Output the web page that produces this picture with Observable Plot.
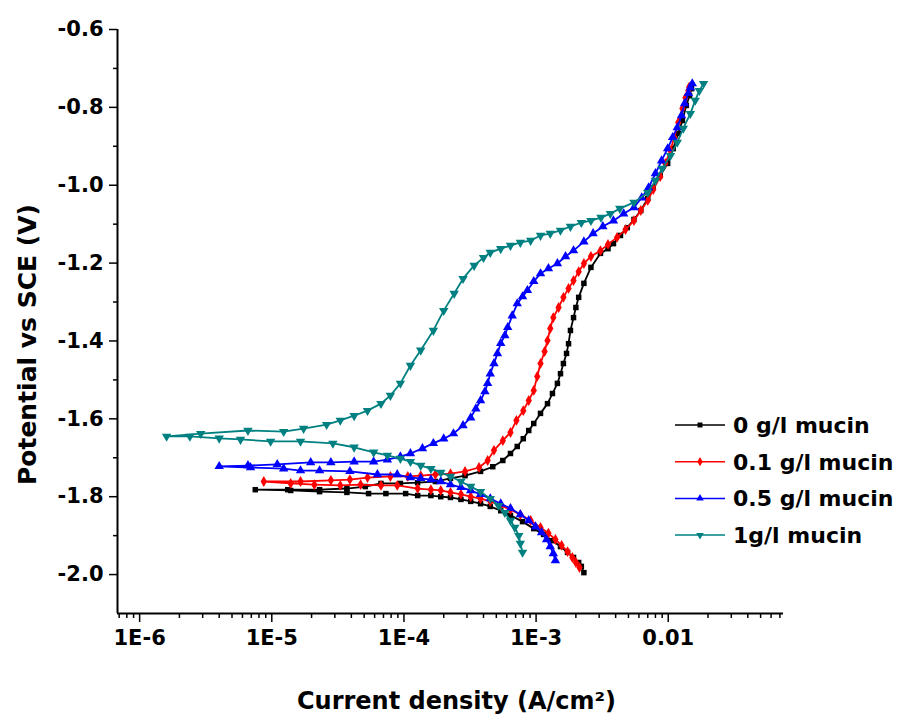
<!DOCTYPE html>
<html><head><meta charset="utf-8">
<script src="https://cdn.jsdelivr.net/npm/d3@7"></script>
<script src="https://cdn.jsdelivr.net/npm/@observablehq/plot@0.6"></script>
<style>
body{margin:0;background:#fff;}
#wrap{position:relative;width:898px;height:714px;overflow:hidden;}
#legend{position:absolute;left:665px;top:400px;}
</style></head><body><div id="wrap"></div>
<script>
// Series names / colours
const seriesNames = ["0 g/l mucin", "0.1 g/l mucin", "0.5 g/l mucin", "1g/l mucin"];
const seriesColors = ["#000000", "#ff0000", "#0000ff", "#008080"];
const seriesSymbols = ["square", "diamond", "triangle", "triangle"];
const seriesRotate = [0, 0, 0, 180];

// [current density (A/cm2), potential (V vs SCE)] in scan order
const mucin0 = [
  [2.3e-3,-1.995],[2.2e-3,-1.979],[2.1e-3,-1.969],[1.92e-3,-1.956],[1.73e-3,-1.943],[1.53e-3,-1.928],[1.33e-3,-1.913],[1.14e-3,-1.897],[9.6e-4,-1.882],[7.9e-4,-1.864],
  [6.4e-4,-1.848],[5.4e-4,-1.836],[4.5e-4,-1.825],[3.8e-4,-1.818],[3.2e-4,-1.812],[2.7e-4,-1.807],[2.25e-4,-1.802],[1.9e-4,-1.800],[1.6e-4,-1.797],[1.27e-4,-1.797],
  [1.03e-4,-1.792],[7.3e-5,-1.792],[5.4e-5,-1.792],[3.7e-5,-1.789],[2.3e-5,-1.787],[1.39e-5,-1.784],[7.5e-6,-1.782],
  [1.32e-5,-1.782],[2.3e-5,-1.782],[3.7e-5,-1.779],[5.1e-5,-1.774],[6.7e-5,-1.766],[9.4e-5,-1.766],[1.27e-4,-1.764],[1.73e-4,-1.761],[2.25e-4,-1.753],[2.9e-4,-1.746],
  [3.8e-4,-1.735],[4.7e-4,-1.723],[5.6e-4,-1.707],[6.4e-4,-1.689],[7.2e-4,-1.671],[8.0e-4,-1.651],[8.8e-4,-1.630],[9.6e-4,-1.612],[1.08e-3,-1.586],[1.22e-3,-1.561],
  [1.33e-3,-1.535],[1.45e-3,-1.509],[1.53e-3,-1.484],[1.61e-3,-1.458],[1.7e-3,-1.432],[1.76e-3,-1.407],[1.82e-3,-1.373],[1.92e-3,-1.340],[2.0e-3,-1.314],[2.1e-3,-1.288],
  [2.3e-3,-1.252],[2.6e-3,-1.211],[3.07e-3,-1.175],[3.5e-3,-1.163],[3.85e-3,-1.150],[4.35e-3,-1.129],[4.9e-3,-1.109],[5.5e-3,-1.088],[6.2e-3,-1.065],[7.0e-3,-1.034],
  [7.7e-3,-1.006],[8.7e-3,-0.975],[9.9e-3,-0.944],[1.09e-2,-0.906],[1.19e-2,-0.867],[1.28e-2,-0.834],[1.37e-2,-0.795],[1.45e-2,-0.770],[1.5e-2,-0.752]
];
const mucin01 = [
  [2.13e-3,-1.982],[2.0e-3,-1.969],[1.88e-3,-1.956],[1.73e-3,-1.941],[1.56e-3,-1.925],[1.4e-3,-1.910],[1.24e-3,-1.894],[1.08e-3,-1.879],[9.1e-4,-1.861],[7.6e-4,-1.846],
  [6.4e-4,-1.833],[5.4e-4,-1.823],[4.5e-4,-1.812],[3.8e-4,-1.805],[3.2e-4,-1.800],[2.7e-4,-1.794],[2.25e-4,-1.789],[1.9e-4,-1.784],[1.6e-4,-1.782],[1.27e-4,-1.779],
  [8.9e-5,-1.771],[6.7e-5,-1.771],[4.7e-5,-1.769],[3.3e-5,-1.771],[2.1e-5,-1.769],[1.39e-5,-1.766],[8.7e-6,-1.761],
  [1.65e-5,-1.761],[2.8e-5,-1.758],[3.9e-5,-1.756],[5.3e-5,-1.751],[7.9e-5,-1.748],[1.07e-4,-1.748],[1.34e-4,-1.746],[1.73e-4,-1.743],[2.25e-4,-1.741],[2.9e-4,-1.735],
  [3.7e-4,-1.725],[4.3e-4,-1.707],[4.8e-4,-1.681],[5.6e-4,-1.656],[6.4e-4,-1.635],[7.1e-4,-1.604],[8.0e-4,-1.579],[8.8e-4,-1.553],[9.6e-4,-1.527],[1.02e-3,-1.491],
  [1.08e-3,-1.458],[1.16e-3,-1.427],[1.22e-3,-1.399],[1.28e-3,-1.368],[1.35e-3,-1.340],[1.48e-3,-1.314],[1.61e-3,-1.288],[1.76e-3,-1.265],[1.92e-3,-1.245],[2.1e-3,-1.222],
  [2.3e-3,-1.201],[2.6e-3,-1.183],[3.07e-3,-1.168],[3.5e-3,-1.152],[4.1e-3,-1.134],[4.75e-3,-1.114],[5.5e-3,-1.091],[6.2e-3,-1.065],[7.0e-3,-1.039],[7.7e-3,-1.011],
  [8.7e-3,-0.978],[9.5e-3,-0.944],[1.04e-2,-0.911],[1.11e-2,-0.877],[1.19e-2,-0.839],[1.28e-2,-0.803],[1.35e-2,-0.775],[1.42e-2,-0.757],[1.44e-2,-0.748]
];
const mucin05 = [
  [1.40e-3,-1.964],[1.35e-3,-1.946],[1.28e-3,-1.928],[1.2e-3,-1.910],[1.1e-3,-1.892],[9.9e-4,-1.877],[8.8e-4,-1.861],[7.6e-4,-1.846],[6.4e-4,-1.830],[5.4e-4,-1.818],
  [4.5e-4,-1.805],[3.8e-4,-1.794],[3.2e-4,-1.784],[2.7e-4,-1.776],[2.25e-4,-1.769],[1.9e-4,-1.761],[1.6e-4,-1.756],[1.34e-4,-1.753],[1.12e-4,-1.751],[8.9e-5,-1.743],
  [6.3e-5,-1.743],[3.9e-5,-1.735],[2.3e-5,-1.733],[1.65e-5,-1.733],[1.23e-5,-1.728],[6.9e-6,-1.725],[4.0e-6,-1.722],
  [6.6e-6,-1.720],[1.1e-5,-1.717],[1.97e-5,-1.712],[2.8e-5,-1.712],[4.2e-5,-1.710],[5.9e-5,-1.710],[7.5e-5,-1.705],[9.4e-5,-1.697],[1.12e-4,-1.689],[1.38e-4,-1.676],
  [1.67e-4,-1.663],[2.0e-4,-1.651],[2.37e-4,-1.638],[2.8e-4,-1.617],[3.2e-4,-1.597],[3.5e-4,-1.574],[3.8e-4,-1.553],[4.1e-4,-1.530],[4.3e-4,-1.509],[4.5e-4,-1.484],
  [4.8e-4,-1.458],[5.1e-4,-1.432],[5.4e-4,-1.406],[5.8e-4,-1.386],[6.1e-4,-1.365],[6.6e-4,-1.335],[7.2e-4,-1.304],[7.9e-4,-1.286],[8.6e-4,-1.270],[9.6e-4,-1.247],
  [1.08e-3,-1.227],[1.24e-3,-1.214],[1.45e-3,-1.201],[1.67e-3,-1.183],[1.92e-3,-1.168],[2.3e-3,-1.145],[2.7e-3,-1.124],[3.2e-3,-1.106],[3.85e-3,-1.091],[4.6e-3,-1.073],
  [5.5e-3,-1.057],[6.3e-3,-1.032],[7.1e-3,-1.006],[8.0e-3,-0.970],[8.9e-3,-0.937],[9.9e-3,-0.906],[1.08e-2,-0.877],[1.17e-2,-0.852],[1.26e-2,-0.821],[1.33e-2,-0.790],
  [1.42e-2,-0.764],[1.47e-2,-0.749],[1.52e-2,-0.739]
];
const mucin1 = [
  [7.9e-4,-1.943],[7.6e-4,-1.920],[7.4e-4,-1.900],[6.9e-4,-1.879],[6.4e-4,-1.861],[5.8e-4,-1.841],[5.2e-4,-1.823],[4.5e-4,-1.805],[3.8e-4,-1.787],[3.2e-4,-1.774],
  [2.7e-4,-1.761],[2.25e-4,-1.748],[1.9e-4,-1.738],[1.6e-4,-1.728],[1.34e-4,-1.720],[1.12e-4,-1.710],[9.4e-5,-1.702],[7.5e-5,-1.694],[5.9e-5,-1.686],[4.2e-5,-1.673],
  [2.9e-5,-1.663],[1.65e-5,-1.658],[9.8e-6,-1.658],[5.8e-6,-1.653],[4.0e-6,-1.650],[2.4e-6,-1.645],[1.6e-6,-1.645],
  [2.9e-6,-1.638],[6.6e-6,-1.630],[1.23e-5,-1.633],[1.74e-5,-1.625],[2.6e-5,-1.615],[3.3e-5,-1.604],[4.2e-5,-1.592],[5.3e-5,-1.579],[6.7e-5,-1.561],[7.9e-5,-1.540],
  [9.4e-5,-1.509],[1.12e-4,-1.463],[1.34e-4,-1.424],[1.67e-4,-1.373],[2.0e-4,-1.322],[2.4e-4,-1.278],[2.8e-4,-1.240],[3.4e-4,-1.206],[4.0e-4,-1.186],[4.5e-4,-1.173],
  [5.4e-4,-1.163],[6.4e-4,-1.155],[7.6e-4,-1.147],[9.1e-4,-1.142],[1.08e-3,-1.129],[1.28e-3,-1.124],[1.53e-3,-1.116],[1.82e-3,-1.106],[2.2e-3,-1.096],[2.6e-3,-1.091],
  [3.1e-3,-1.083],[3.65e-3,-1.073],[4.3e-3,-1.060],[5.5e-3,-1.044],[7.0e-3,-1.019],[8.0e-3,-0.988],[9.0e-3,-0.957],[1.04e-2,-0.924],[1.17e-2,-0.890],[1.3e-2,-0.854],
  [1.47e-2,-0.816],[1.6e-2,-0.782],[1.72e-2,-0.757],[1.85e-2,-0.739]
];
const seriesData = [mucin0, mucin01, mucin05, mucin1];

// Axes
const xDomain = [6.8e-7, 0.0745];
const yDomain = [-2.1, -0.6];
const xMajorTicks = [1e-6, 1e-5, 1e-4, 1e-3, 1e-2];
const xMajorLabels = ["1E-6", "1E-5", "1E-4", "1E-3", "0.01"];
const yMajorTicks = [-0.6, -0.8, -1.0, -1.2, -1.4, -1.6, -1.8, -2.0];
const yMajorLabels = ["-0.6", "-0.8", "-1.0", "-1.2", "-1.4", "-1.6", "-1.8", "-2.0"];
const yMinorTicks = [-0.7, -0.9, -1.1, -1.3, -1.5, -1.7, -1.9];
const xLabel = "Current density (A/cm\u00B2)";
const yLabel = "Potential vs SCE (V)";

const xMinorTicks = [];
for (let e = -7; e <= -2; e++) for (let m = 2; m <= 9; m++) {
  const v = m * Math.pow(10, e);
  if (v >= xDomain[0] && v <= xDomain[1]) xMinorTicks.push(v);
}

const R = [3.1, 3.3, 3.5, 3.5];
const seriesMarks = seriesData.flatMap((arr, k) => {
  const rows = arr.map(([i, e]) => ({i, e}));
  return [
    Plot.line(rows, {x: "i", y: "e", stroke: seriesColors[k], strokeWidth: 1.8}),
    Plot.dot(rows, {x: "i", y: "e", symbol: seriesSymbols[k], r: R[k], fill: seriesColors[k], rotate: seriesRotate[k]})
  ];
});

const chart = Plot.plot({
  width: 898, height: 714,
  marginLeft: 117, marginRight: 115, marginTop: 29, marginBottom: 101,
  x: {type: "log", domain: xDomain},
  y: {domain: yDomain},
  style: {fontFamily: "'DejaVu Sans', sans-serif", fontWeight: "bold", background: "#fff", color: "#000"},
  marks: [
    Plot.axisX(xMinorTicks, {tickSize: 5, tickFormat: () => "", strokeWidth: 1.5, label: null}),
    Plot.axisX(xMajorTicks, {tickSize: 9, tickPadding: 8, tickFormat: (d) => xMajorLabels[xMajorTicks.indexOf(d)], fontSize: 21, strokeWidth: 1.5, label: null}),
    Plot.axisY(yMinorTicks, {tickSize: 4, tickFormat: () => "", strokeWidth: 1.5, label: null}),
    Plot.axisY(yMajorTicks, {tickSize: 8, tickPadding: 6, tickFormat: (d) => yMajorLabels[yMajorTicks.indexOf(d)], fontSize: 21, strokeWidth: 1.5, label: null}),
    Plot.ruleX([xDomain[0]], {strokeWidth: 2}),
    Plot.ruleY([yDomain[0]], {strokeWidth: 2}),
    ...seriesMarks,
    Plot.text([xLabel], {text: (d) => d, frameAnchor: "bottom", dy: 88, dx: 6, lineAnchor: "middle", textAnchor: "middle", fontSize: 24, fontWeight: "bold"}),
    Plot.text([yLabel], {text: (d) => d, frameAnchor: "left", rotate: -90, dx: -90, dy: 23, lineAnchor: "middle", textAnchor: "middle", fontSize: 25, fontWeight: "bold"})
  ]
});
document.getElementById("wrap").appendChild(chart);

// Legend
const leg = d3.select("#wrap").append("svg").attr("id", "legend")
  .attr("width", 233).attr("height", 150)
  .style("font-family", "'DejaVu Sans', sans-serif").style("font-weight", "bold");
const symType = {square: d3.symbolSquare, diamond: d3.symbolDiamond, triangle: d3.symbolTriangle};
seriesNames.forEach((name, k) => {
  const g = leg.append("g").attr("transform", `translate(0,${25 + k * 36.7})`);
  g.append("line").attr("x1", 10).attr("x2", 60).attr("y1", 0).attr("y2", 0)
    .attr("stroke", seriesColors[k]).attr("stroke-width", 1.5);
  g.append("path").attr("d", d3.symbol(symType[seriesSymbols[k]], 2.8 * 2.8 * Math.PI)())
    .attr("transform", `translate(35,0) rotate(${seriesRotate[k]})`).attr("fill", seriesColors[k]);
  g.append("text").attr("x", 68).attr("y", 0).attr("dy", "0.36em").attr("font-size", 22).attr("fill", "#000").text(name);
});
</script>
</body></html>
